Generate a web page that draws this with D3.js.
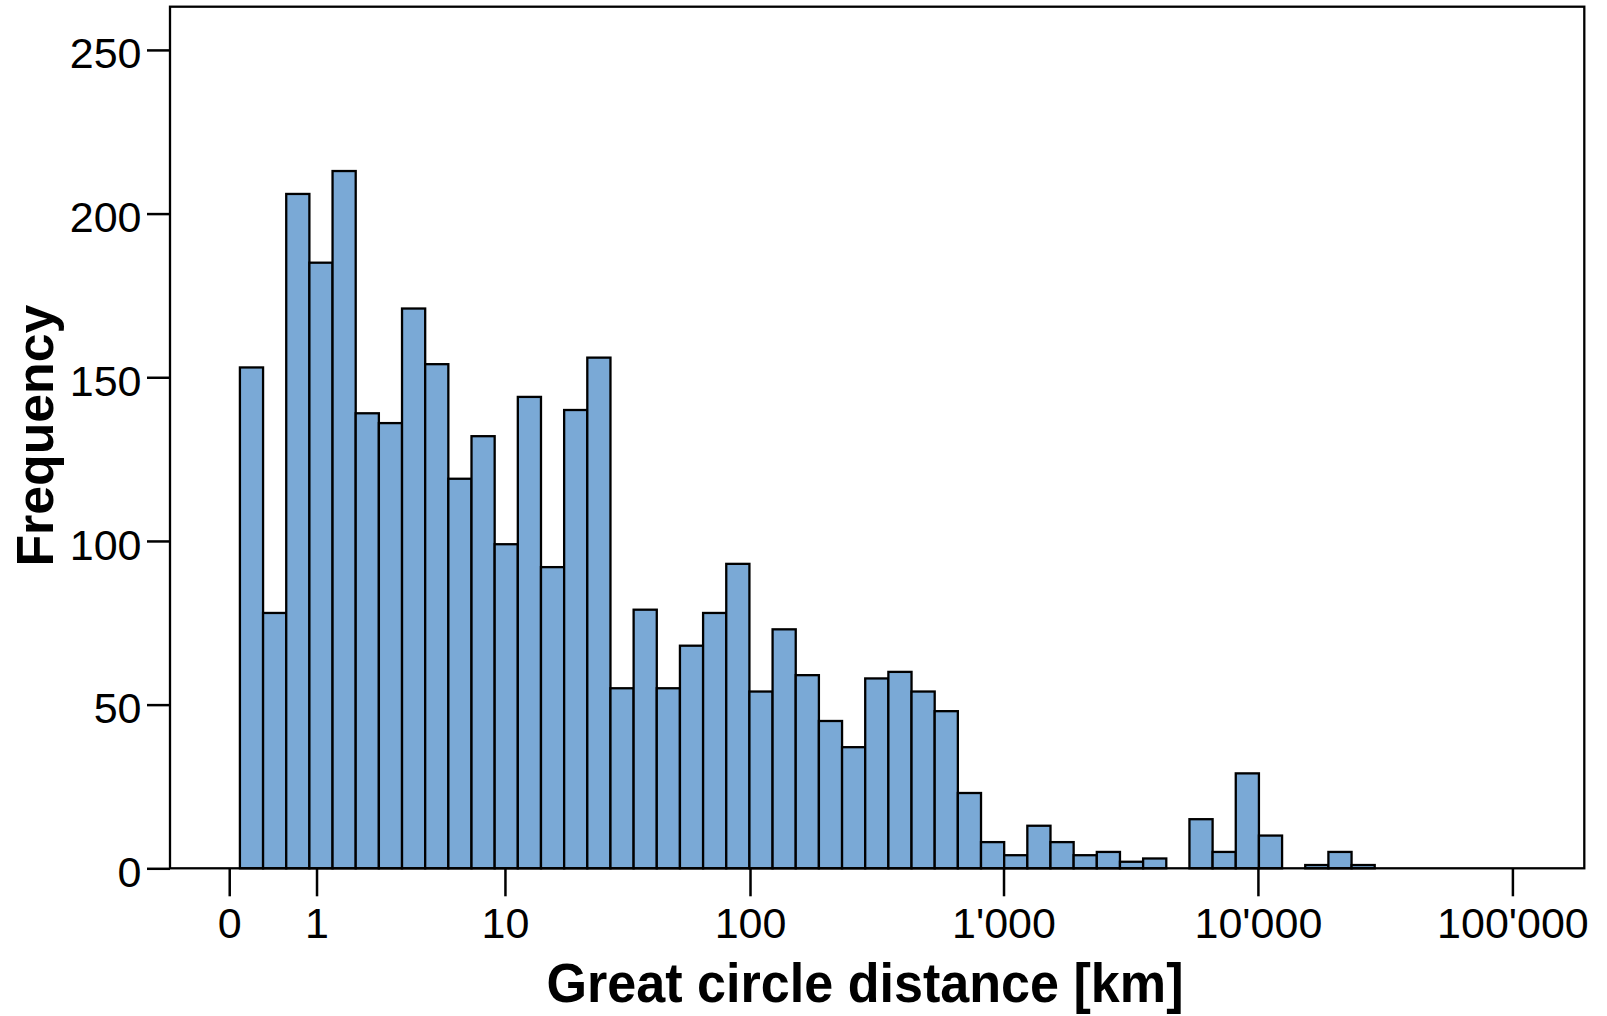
<!DOCTYPE html>
<html><head><meta charset="utf-8">
<script src="https://cdn.jsdelivr.net/npm/d3@7"></script>
<style>body{margin:0;background:#fff}</style>
</head><body>
<svg id="chart" width="1607" height="1016"></svg>
<script>
// ---- data (x axis is log10(km + 1)) ----
const binStartLog = 0;
const binWidthLog = 0.0910;
const counts = [153,78,206,185,213,139,136,171,154,119,132,99,144,92,140,156,
  55,79,55,68,78,93,54,73,59,45,37,58,60,54,48,23,8,4,13,8,4,5,2,3,0,15,5,29,10,0,1,5,1];
const xTickKm = [0,1,10,100,1000,10000,100000];
const xTickLabels = ["0","1","10","100","1'000","10'000","100'000"];
const zeroTickLog = -0.042;   // reference draws the "0" tick slightly left of the bin start
const yTicks = [0,50,100,150,200,250];
const xDomain = [-0.2747, 5.2825];
const yDomain = [0, 263.2];
const xTitle = "Great circle distance [km]";
const yTitle = "Frequency";

// ---- drawing ----
const svg = d3.select("#chart");
svg.append("rect").attr("width",1607).attr("height",1016).attr("fill","#fff");
const font = "'Liberation Sans', Arial, Helvetica, sans-serif";
const x = d3.scaleLinear().domain(xDomain).range([170, 1584.3]);
const y = d3.scaleLinear().domain(yDomain).range([868.3, 6.7]);

const bins = counts.map((c,i)=>({x0: binStartLog + i*binWidthLog, x1: binStartLog + (i+1)*binWidthLog, c}));
svg.append("g").selectAll("rect").data(bins).join("rect")
  .attr("x", d=>x(d.x0)).attr("width", d=>x(d.x1)-x(d.x0))
  .attr("y", d=>y(d.c)).attr("height", d=>y(0)-y(d.c))
  .attr("fill","#7aa9d6").attr("stroke","#000").attr("stroke-width",2.3);

// frame
svg.append("rect")
  .attr("x", x(xDomain[0])).attr("y", y(yDomain[1]))
  .attr("width", x(xDomain[1])-x(xDomain[0])).attr("height", y(0)-y(yDomain[1]))
  .attr("fill","none").attr("stroke","#000").attr("stroke-width",2.3);

const tickPos = xTickKm.map(v => v===0 ? zeroTickLog : Math.log10(v+1));
const xAxis = d3.axisBottom(x).tickValues(tickPos)
  .tickFormat((d,i)=>xTickLabels[i]).tickSize(28).tickPadding(11);
const gx = svg.append("g").attr("transform",`translate(0,${y(0)})`).call(xAxis);
gx.select(".domain").remove();
gx.selectAll("line").attr("stroke","#000").attr("stroke-width",2.5);
gx.selectAll("text").attr("font-family",font).attr("font-size",43).attr("fill","#000");

const yAxis = d3.axisLeft(y).tickValues(yTicks).tickSize(23).tickPadding(5.5);
const gy = svg.append("g").attr("transform",`translate(${x(xDomain[0])},0)`).call(yAxis);
gy.select(".domain").remove();
gy.selectAll("line").attr("stroke","#000").attr("stroke-width",2.5);
gy.selectAll("text").attr("font-family",font).attr("font-size",43).attr("fill","#000").attr("dy","0.42em");

svg.append("text").attr("x",865).attr("y",1002)
  .attr("text-anchor","middle").attr("font-family",font).attr("font-weight","bold")
  .attr("font-size",55).attr("textLength",637).attr("lengthAdjust","spacingAndGlyphs")
  .text(xTitle);
svg.append("text").attr("transform","translate(53,435.6) rotate(-90)")
  .attr("text-anchor","middle").attr("font-family",font).attr("font-weight","bold")
  .attr("font-size",52).attr("textLength",262).attr("lengthAdjust","spacingAndGlyphs")
  .text(yTitle);
</script>
</body></html>
